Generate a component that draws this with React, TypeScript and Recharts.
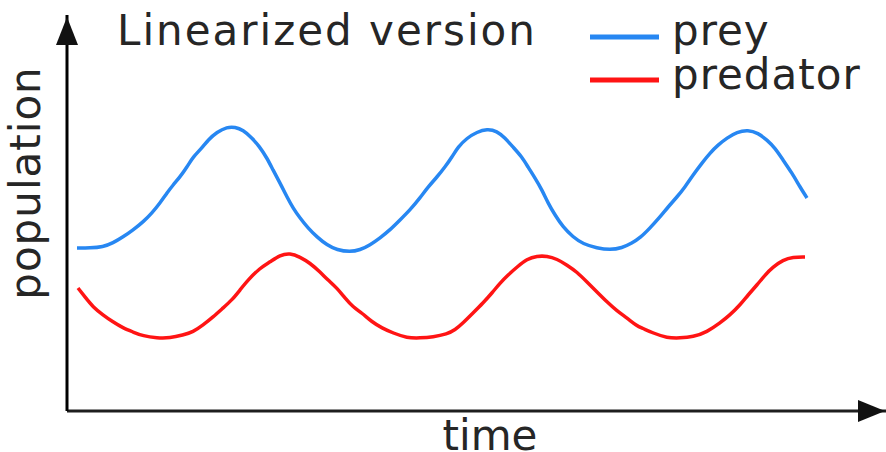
import React from "react";
import { LineChart, Line, XAxis, YAxis, ReferenceDot, ReferenceLine, Legend } from "recharts";

// time coordinate and population value
const preyTime = [10,23,36,46,56,66,76,85,93,100,106,113,120,126,135,141,150,160,168,176,185,192,200,206,213,220,226,233,241,250,260,270,283,293,303,313,323,333,343,353,361,370,378,385,391,400,410,420,430,438,446,455,461,468,475,481,488,496,506,516,530,543,555,565,573,583,593,601,610,618,626,635,643,651,660,670,681,691,700,708,716,725,733,740];
const preyValues = [163,163,164,168,174,181,189,198,208,218,226,234,244,254,263,271,279,284,284,281,273,265,253,241,228,214,203,193,183,174,166,161,159,161,166,173,181,191,201,213,224,234,244,254,264,273,279,282,280,273,264,254,244,233,221,208,196,184,174,167,163,161,163,168,173,183,194,204,214,224,236,248,258,266,273,279,281,278,271,263,251,238,224,213];

const predatorTime = [11,18,26,36,46,56,66,76,90,103,116,126,136,146,156,165,173,181,193,203,213,223,233,243,253,261,270,278,286,295,305,315,326,340,353,366,380,388,396,406,416,425,433,441,450,460,470,480,490,500,510,520,530,540,550,560,570,575,586,600,613,626,640,653,663,673,681,690,698,706,716,726,738];
const predatorValues = [123,114,104,96,89,83,79,75,73,73,76,79,86,94,103,111,121,131,143,149,156,158,154,148,139,131,123,113,104,98,89,83,78,73,73,74,77,81,88,98,108,118,128,136,144,152,155,155,152,146,139,129,119,109,100,93,85,83,78,73,73,74,79,88,96,106,116,126,136,144,151,154,154];

const seriesNames = ["prey", "predator"];
const seriesColors = ["#2787f2", "#ff1414"];
const titleText = "Linearized version";
const xLabel = "time";
const yLabel = "population";

const preyData = preyTime.map((t, i) => ({ t, v: preyValues[i] }));
const predatorData = predatorTime.map((t, i) => ({ t, v: predatorValues[i] }));

const X_MAX = 819;
const Y_MAX = 396;
const FONT = "'DejaVu Sans', sans-serif";
const TEXT = "#262626";

const RightArrow = (props: any) => {
  const { cx, cy } = props;
  return <polygon points={`${cx - 1},${cy} ${cx - 28},${cy - 11} ${cx - 28},${cy + 11}`} fill="#111" />;
};
const UpArrow = (props: any) => {
  const { cx, cy } = props;
  return <polygon points={`${cx},${cy + 2} ${cx - 11},${cy + 30} ${cx + 11},${cy + 30}`} fill="#111" />;
};

const LegendContent = (props: any) => {
  const payload = [...(props.payload || [])].sort(
    (a: any, b: any) => seriesNames.indexOf(a.value) - seriesNames.indexOf(b.value)
  );
  return (
    <svg width={300} height={100} style={{ display: "block" }}>
      {payload.map((entry: any, i: number) => (
        <g key={i}>
          <line x1={5} x2={74} y1={37 + 43 * i} y2={37 + 43 * i} stroke={entry.color} strokeWidth={5} />
          <text x={87} y={45 + 44 * i} fontFamily={FONT} fontSize={42} fill={TEXT} letterSpacing={1}>
            {entry.value}
          </text>
        </g>
      ))}
    </svg>
  );
};

export default function App() {
  return (
    <div style={{ position: "absolute", left: 0, top: 0, width: 886, height: 452, background: "#fff" }}>
      <LineChart width={886} height={452} margin={{ top: 15, right: 0, bottom: 41, left: 67 }}>
        <XAxis type="number" dataKey="t" domain={[0, X_MAX]} hide allowDataOverflow />
        <YAxis type="number" dataKey="v" domain={[0, Y_MAX]} hide allowDataOverflow />
        <Legend
          layout="horizontal"
          verticalAlign="middle"
          align="center"
          content={<LegendContent />}
          wrapperStyle={{ position: "absolute", left: 585, top: 0, width: 300, height: 100 }}
        />
        <ReferenceLine y={0} stroke="#1e1e1e" strokeWidth={3} ifOverflow="visible" />
        <ReferenceLine x={0} stroke="#000" strokeWidth={3} ifOverflow="visible" />
        <Line
          data={preyData}
          dataKey="v"
          name={seriesNames[0]}
          type="basis"
          stroke={seriesColors[0]}
          strokeWidth={3.5}
          dot={false}
          isAnimationActive={false}
        />
        <Line
          data={predatorData}
          dataKey="v"
          name={seriesNames[1]}
          type="basis"
          stroke={seriesColors[1]}
          strokeWidth={3.5}
          dot={false}
          isAnimationActive={false}
        />
        <ReferenceDot x={X_MAX} y={0} r={0} shape={RightArrow} ifOverflow="visible" />
        <ReferenceDot x={0} y={Y_MAX} r={0} shape={UpArrow} ifOverflow="visible" />
      </LineChart>
      <svg
        width={886}
        height={452}
        style={{ position: "absolute", left: 0, top: 0, pointerEvents: "none" }}
      >
        <text x={117} y={45} fontFamily={FONT} fontSize={42} fill={TEXT} letterSpacing={2}>
          {titleText}
        </text>
        <text
          transform="translate(40,183) rotate(-90)"
          textAnchor="middle"
          fontFamily={FONT}
          fontSize={42}
          fill={TEXT}
          letterSpacing={1}
        >
          {yLabel}
        </text>
        <text x={490} y={450} textAnchor="middle" fontFamily={FONT} fontSize={42} fill={TEXT}>
          {xLabel}
        </text>
      </svg>
    </div>
  );
}
